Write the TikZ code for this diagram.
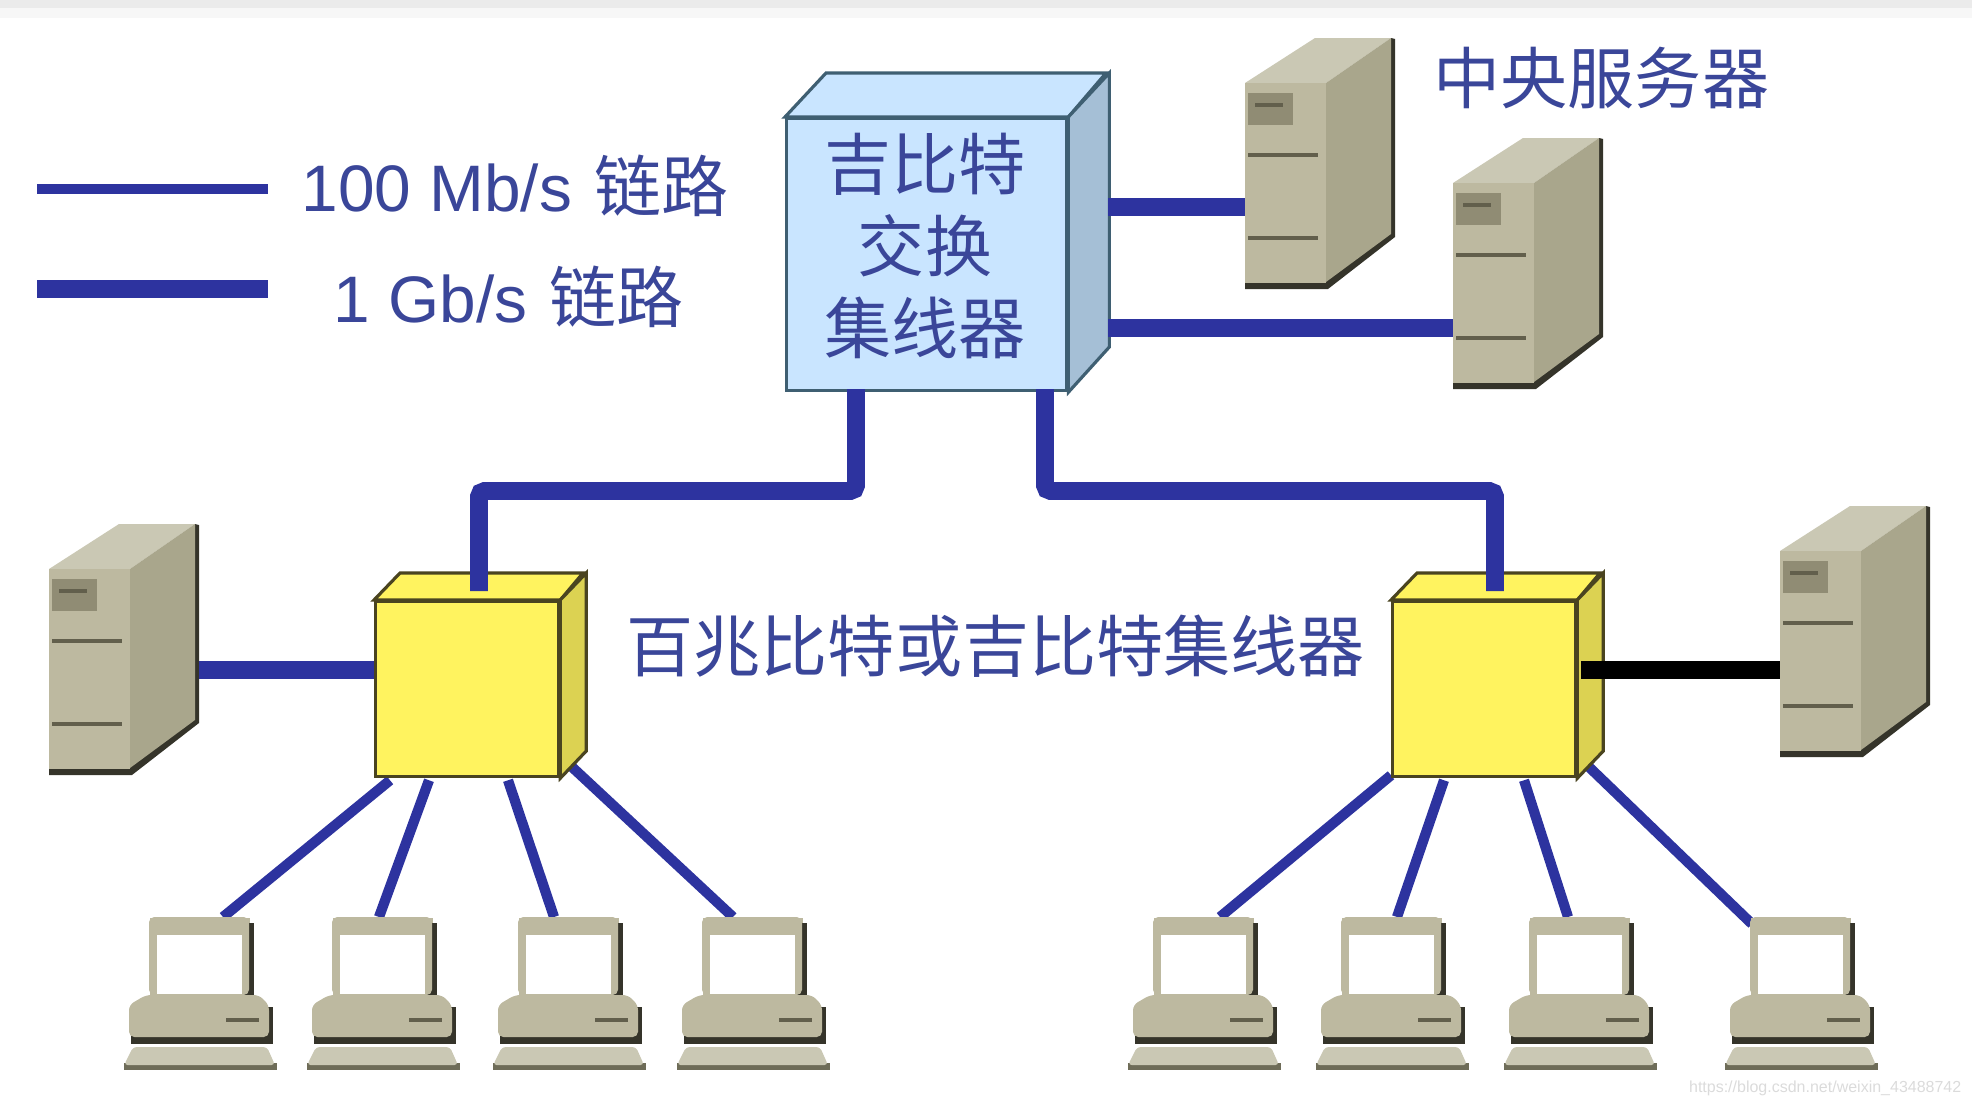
\documentclass[tikz,border=0pt]{standalone}
\usepackage{fontspec}
\setmainfont{Liberation Sans}
\newfontfamily\cjk[Scale=1.02]{Noto Sans CJK SC}
\usetikzlibrary{calc,backgrounds}
\definecolor{linkblue}{HTML}{2D339F}
\definecolor{textblue}{HTML}{3A4699}
\definecolor{boxfront}{HTML}{BDB9A0}
\definecolor{boxtop}{HTML}{CAC8B4}
\definecolor{boxside}{HTML}{A9A68C}
\definecolor{boxdark}{HTML}{35342A}
\definecolor{boxshade}{HTML}{6E6C58}
\definecolor{badge}{HTML}{908C74}
\definecolor{slit}{HTML}{625F4C}
\definecolor{corefront}{HTML}{C9E5FF}
\definecolor{coreside}{HTML}{A5BFD6}
\definecolor{coreline}{HTML}{3F5F72}
\definecolor{hubfront}{HTML}{FFF35F}
\definecolor{hubside}{HTML}{DCD252}
\definecolor{hubline}{HTML}{4A4420}

\begin{document}
\begin{tikzpicture}[x=0.01cm,y=-0.01cm]
                      \tikzstyle{thinlink}=[draw=linkblue,line width=2.9pt]
                      \tikzstyle{thicklink}=[draw=linkblue,line width=5pt]
                      \tikzstyle{label}=[text=textblue,font=\fontsize{18.7pt}{23.3pt}\selectfont,inner sep=0pt]
                      \tikzstyle{server}=[anchor=north west,fill=boxfront,inner sep=0pt,minimum width=0.81cm,minimum height=2cm]
                      \tikzstyle{screen}=[anchor=north west,fill=boxfront,inner sep=0pt,minimum width=1cm,minimum height=0.78cm]
                      \tikzstyle{hub}=[anchor=north west,line width=0.9pt,inner sep=0pt]
                      \useasboundingbox (0,0) rectangle (1972,1106);
                      \fill[black!3] (0,0) rectangle (1972,18);
                      \fill[black!8] (0,0) rectangle (1972,8);
                      % servers
                      \foreach \name/\x/\y in {srvA/1245/83,srvB/1453/183,srvC/49/569,srvD/1780/551}{
                        \node[server] (\name) at (\x,\y) {};
                        \begin{scope}[shift={(\x,\y)}]
                          \fill[boxdark] (0,198) -- (81,198) -- (146,-45) -- (150,-44) -- (150,154) -- (83,206) -- (0,206) -- cycle;
                          \fill[boxtop] (0,0) -- (70,-45) -- (146,-45) -- (81,0) -- cycle;
                          \fill[boxside] (81,0) -- (146,-45) -- (146,151) -- (81,199) -- cycle;
                          \fill[boxfront] (0,0) rectangle (81,200);
                          \fill[badge] (3,10) rectangle (48,42);
                          \draw[slit,line width=1pt] (10,22) -- (38,22);
                          \draw[slit,line width=1pt] (3,72) -- (73,72);
                          \draw[slit,line width=1pt] (3,155) -- (73,155);
                        \end{scope}
                      }
                      % computers
                      \foreach \name/\x in {pcA/149,pcB/332,pcC/518,pcD/702,pcE/1153,pcF/1341,pcG/1529,pcH/1750}{
                        \node[screen] (\name) at (\x,917) {};
                        \begin{scope}[shift={(\x,917)}]
                          \fill[boxdark] (95,6) rectangle (105,80);
                          \fill[boxfront,rounded corners=1.5pt] (0,78) -- (0,0) -- (100,0) -- (100,78) -- cycle;
                          \fill[white] (8,18) rectangle (93,77);
                          \fill[boxdark] (-18,115) rectangle (124,127);
                          \fill[boxdark] (118,90) rectangle (124,127);
                          \fill[boxfront,rounded corners=1.5pt] (-20,88) -- (-3,78) -- (110,78) -- (120,88) -- (120,120) -- (-20,120) -- cycle;
                          \draw[slit,line width=1.4pt] (77,103) -- (110,103);
                          \fill[boxshade] (-25,146) -- (128,146) -- (128,153) -- (-25,153) -- cycle;
                          \fill[boxtop,rounded corners=1pt] (-25,148) -- (-16,130) -- (118,130) -- (126,148) -- cycle;
                        \end{scope}
                      }
                      % hubs
                      \node[hub,draw=coreline,fill=corefront,minimum width=2.8cm,minimum height=2.72cm] (core) at (785,117) {};
                      \fill[corefront,draw=coreline,line width=0.9pt] (core.north west) -- ++(41,-44) -- ++(280,0) -- (core.north east) -- cycle;
                      \fill[coreside,draw=coreline,line width=0.9pt] (core.north east) -- ++(41,-44) -- ++(0,274) -- (core.south east) -- cycle;
                      \foreach \name/\x in {hubA/374,hubB/1391}{
                        \node[hub,draw=hubline,fill=hubfront,minimum width=1.83cm,minimum height=1.75cm] (\name) at (\x,600) {};
                        \fill[hubfront,draw=hubline,line width=0.9pt] (\name.north west) -- ++(26,-27) -- ++(183,0) -- (\name.north east) -- cycle;
                        \fill[hubside,draw=hubline,line width=0.9pt] (\name.north east) -- ++(26,-27) -- ++(0,178) -- (\name.south east) -- cycle;
                      }
                      % links
                      \coordinate (keyA) at (37,189);
                      \coordinate (keyB) at (268,189);
                      \coordinate (keyC) at (37,289);
                      \coordinate (keyD) at (268,289);
                      \draw[thinlink] (keyA) -- (keyB);
                      \draw[thicklink] (keyC) -- (keyD);
                      \draw[thicklink] (1108,207) -- (srvA.west |- 0,207);
                      \draw[thicklink] (1108,328) -- (srvB.west |- 0,328);
                      \draw[thicklink] (srvC.north east |- 0,670) ++(68,0) -- (hubA.west |- 0,670);
                      \draw[thicklink,rounded corners=1.5pt] (856,389) -- (856,491) -- (479,491) -- (479,591);
                      \draw[thicklink,rounded corners=1.5pt] (1045,389) -- (1045,491) -- (1495,491) -- (1495,591);
                      \draw[thicklink,draw=black] (1581,670) -- (srvD.west |- 0,670);
                      \begin{scope}[on background layer]
                        \draw[thinlink] (hubA.south west) ++(16,2) -- ($(pcA.north west)+(74,0)$);
                        \draw[thinlink] (hubA.south west) ++(55,2) -- ($(pcB.north west)+(47,0)$);
                        \draw[thinlink] (hubA.south west) ++(134,2) -- ($(pcC.north west)+(36,0)$);
                        \draw[thinlink] (hubA.south east) ++(12,-11) -- ($(pcD.north west)+(31,0)$);
                        \draw[thinlink] (hubB.south west) ++(0,-3) -- ($(pcE.north west)+(67,0)$);
                        \draw[thinlink] (hubB.south west) ++(53,2) -- ($(pcF.north west)+(56,0)$);
                        \draw[thinlink] (hubB.south west) ++(133,2) -- ($(pcG.north west)+(39,0)$);
                        \draw[thinlink] (hubB.south east) ++(12,-11) -- ($(pcH.north west)+(2,7)$);
                      \end{scope}
                      % labels
                      \node[label,align=center] (coretext) at (925,246) {\cjk 吉比特\\\cjk 交换\\\cjk 集线器};
                      \node[label,anchor=west] (speedA) at (301,186) {100 Mb/s\kern1.2pt{} {\cjk 链路}};
                      \node[label,anchor=west] (speedB) at (333,297) {1 Gb/s\kern1pt{} {\cjk 链路}};
                      \node[label,anchor=west] (central) at (1433,78) {\cjk 中央服务器};
                      \node[label,anchor=west] (edgehub) at (626,646) {\cjk 百兆比特或吉比特集线器};
                      \node[anchor=east,text=black!14,font=\fontsize{4.55pt}{6pt}\selectfont,inner sep=0pt] (mark) at (1962,1088) {https://blog.csdn.net/weixin\_43488742};
                  \end{tikzpicture}
\end{document}
